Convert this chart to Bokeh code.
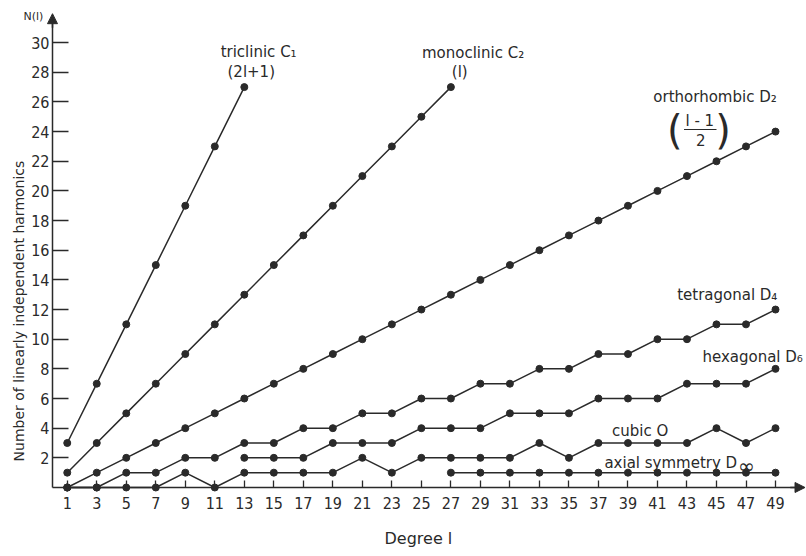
import math
from bokeh.plotting import figure
from bokeh.models import FixedTicker, Label, Arrow, NormalHead, Range1d
from bokeh.embed import file_html
from bokeh.resources import INLINE

# ---------------- data ----------------
x_ticks = [1, 3, 5, 7, 9, 11, 13, 15, 17, 19, 21, 23, 25, 27, 29, 31, 33, 35, 37, 39, 41, 43, 45, 47, 49]
y_ticks = [2, 4, 6, 8, 10, 12, 14, 16, 18, 20, 22, 24, 26, 28, 30]

triclinic_l = [1, 3, 5, 7, 9, 11, 13]
triclinic_n = [3, 7, 11, 15, 19, 23, 27]

monoclinic_l = [1, 3, 5, 7, 9, 11, 13, 15, 17, 19, 21, 23, 25, 27]
monoclinic_n = [1, 3, 5, 7, 9, 11, 13, 15, 17, 19, 21, 23, 25, 27]

all_l = [1, 3, 5, 7, 9, 11, 13, 15, 17, 19, 21, 23, 25, 27, 29, 31, 33, 35, 37, 39, 41, 43, 45, 47, 49]
orthorhombic_n = [0, 1, 2, 3, 4, 5, 6, 7, 8, 9, 10, 11, 12, 13, 14, 15, 16, 17, 18, 19, 20, 21, 22, 23, 24]
tetragonal_n = [0, 0, 1, 1, 2, 2, 3, 3, 4, 4, 5, 5, 6, 6, 7, 7, 8, 8, 9, 9, 10, 10, 11, 11, 12]
cubic_n = [0, 0, 0, 0, 1, 0, 1, 1, 1, 1, 2, 1, 2, 2, 2, 2, 3, 2, 3, 3, 3, 3, 4, 3, 4]

hexagonal_l = [13, 15, 17, 19, 21, 23, 25, 27, 29, 31, 33, 35, 37, 39, 41, 43, 45, 47, 49]
hexagonal_n = [2, 2, 2, 3, 3, 3, 4, 4, 4, 5, 5, 5, 6, 6, 6, 7, 7, 7, 8]

axial_l = [27, 29, 31, 33, 35, 37, 39, 41, 43, 45, 47, 49]
axial_n = [1, 1, 1, 1, 1, 1, 1, 1, 1, 1, 1, 1]

series = [
    (triclinic_l, triclinic_n),
    (monoclinic_l, monoclinic_n),
    (all_l, orthorhombic_n),
    (all_l, tetragonal_n),
    (hexagonal_l, hexagonal_n),
    (all_l, cubic_n),
    (axial_l, axial_n),
]

# ---------------- style ----------------
INK = "#2a2a2a"
FONT = "DejaVu Sans"
TICK_FONT = "DejaVu Sans Condensed, DejaVu Sans"

p = figure(width=806, height=556, output_backend="svg", toolbar_location=None,
           x_range=Range1d(-3.524, 51.10), y_range=Range1d(-4.653, 32.84),
           min_border=0)
p.outline_line_color = None
p.grid.visible = False
p.background_fill_color = "white"
p.border_fill_color = "white"

# y axis (drawn inside the frame at x = 0)
ya = p.yaxis[0]
ya.fixed_location = 0
ya.ticker = FixedTicker(ticks=y_ticks)
ya.bounds = (0, 31.5)
ya.major_tick_in = 16
ya.major_tick_out = 0
ya.minor_tick_line_color = None
ya.major_label_standoff = 3
ya.major_label_text_font = TICK_FONT
ya.major_label_text_font_size = "16px"
ya.major_label_text_color = INK
ya.axis_line_color = INK
ya.axis_line_width = 1.5
ya.major_tick_line_color = INK
ya.major_tick_line_width = 1.3

# x axis (drawn inside the frame at y = 0)
xa = p.xaxis[0]
xa.fixed_location = 0
xa.ticker = FixedTicker(ticks=x_ticks)
xa.bounds = (0, 50.5)
xa.major_tick_in = 7
xa.major_tick_out = 0
xa.minor_tick_line_color = None
xa.major_label_standoff = 10
xa.major_label_text_font = TICK_FONT
xa.major_label_text_font_size = "16px"
xa.major_label_text_color = INK
xa.axis_line_color = INK
xa.axis_line_width = 1.5
xa.major_tick_line_color = INK
xa.major_tick_line_width = 1.3

# arrows on the axes
p.add_layout(Arrow(end=NormalHead(size=10, fill_color=INK, line_color=INK),
                   x_start=50.0, y_start=0, x_end=51.0, y_end=0,
                   line_color=INK, line_width=1.5))
p.add_layout(Arrow(end=NormalHead(size=10, fill_color=INK, line_color=INK),
                   x_start=0, y_start=31.0, x_end=0, y_end=31.95,
                   line_color=INK, line_width=1.5))

# series
for xs, ys in series:
    p.line(xs, ys, line_color=INK, line_width=1.5)
    p.scatter(xs, ys, size=7, fill_color=INK, line_color=INK)

def lab(text, x, y, size="15px", align="center", baseline="middle", angle=0.0):
    p.add_layout(Label(x=x, y=y, text=text, text_font=FONT, text_font_size=size,
                       text_color=INK, text_align=align, text_baseline=baseline,
                       angle=angle))

# series labels
lab("triclinic C\u2081", 13.97, 29.4)
lab("(2l+1)", 13.47, 28.05)
lab("monoclinic C\u2082", 28.5, 29.3)
lab("(l)", 27.6, 28.05)
lab("orthorhombic D\u2082", 44.9, 26.3)
lab("l - 1", 43.87, 24.72, size="15px")
p.segment(x0=[42.8], y0=[24.14], x1=[45.0], y1=[24.14], line_color=INK, line_width=1.2)
lab("2", 43.94, 23.45, size="15px")
lab("(", 42.17, 24.1, size="40px")
lab(")", 45.45, 24.1, size="40px")
lab("tetragonal D\u2084", 45.73, 12.95)
lab("hexagonal D\u2086", 47.45, 8.77)
lab("cubic O", 39.83, 3.78)
lab("axial symmetry D", 46.4, 1.62, align="right")
lab("\u221e", 46.45, 1.42, size="20px", align="left")

# axis titles
lab("Number of linearly independent harmonics", -2.3, 11.9, size="14px", angle=math.pi / 2)
lab("N(l)", -1.29, 31.76, size="11px")
lab("Degree l", 24.8, -3.44, size="16px")

open("out.html", "w").write(file_html(p, INLINE))
